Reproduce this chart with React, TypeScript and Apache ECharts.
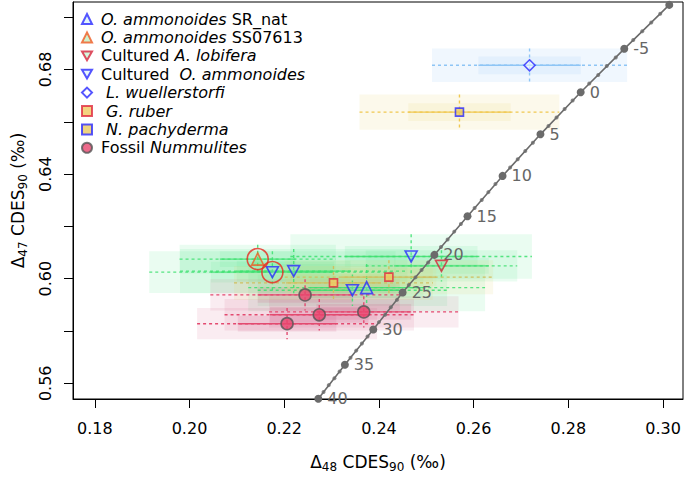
import React, { useEffect, useRef } from 'react';
import * as echarts from 'echarts';

const FONT = 'DejaVu Sans';

// axis ticks
const xTicks = [0.18, 0.2, 0.22, 0.24, 0.26, 0.28, 0.3];
const yTicks = [0.56, 0.58, 0.6, 0.62, 0.64, 0.66, 0.68, 0.7];
const yTickLabels = [0.56, 0.6, 0.64, 0.68];

// samples: [x (D48), y (D47), x 1SE, x 95%, y 1SE, y 95%]
const srNat = [[0.2374, 0.5966, 0.012, 0.025, 0.004, 0.009]];
const ss07613 = [[0.2144, 0.6075, 0.008, 0.0165, 0.003, 0.0055]];
const culturedLobifera = [[0.2532, 0.6049, 0.01, 0.016, 0.003, 0.006]];
const culturedAmmonoides = [
  [0.2175, 0.6025, 0.013, 0.026, 0.004, 0.008],
  [0.222, 0.6029, 0.012, 0.024, 0.004, 0.0085],
  [0.2344, 0.5956, 0.01, 0.02, 0.003, 0.006],
  [0.2468, 0.6085, 0.014, 0.0255, 0.004, 0.0085],
];
const wuellerstorfi = [[0.2718, 0.6816, 0.0108, 0.0206, 0.0034, 0.0064]];
const ruber = [
  [0.2304, 0.5984, 0.01, 0.021, 0.0034, 0.0065],
  [0.2421, 0.6006, 0.01, 0.022, 0.0034, 0.0065],
];
const pachyderma = [[0.257, 0.6637, 0.0108, 0.0211, 0.0034, 0.0067]];
const nummulites = [
  [0.2244, 0.5938, 0.01, 0.02, 0.003, 0.006],
  [0.2274, 0.5862, 0.0104, 0.02, 0.003, 0.006],
  [0.2206, 0.5828, 0.0104, 0.019, 0.003, 0.006],
  [0.2368, 0.5873, 0.01, 0.02, 0.003, 0.006],
];
const circled = [
  [0.2144, 0.6075],
  [0.2175, 0.6025],
];

// calibration line (every 5 °C) and 1 °C marks
const calibT = [-10, -5, 0, 5, 10, 15, 20, 25, 30, 35, 40];
const calibX = [0.3013, 0.2918, 0.2826, 0.2741, 0.2661, 0.2587, 0.2517, 0.245, 0.2388, 0.2328, 0.2272];
const calibY = [0.7047, 0.6879, 0.6713, 0.6552, 0.6393, 0.6239, 0.6091, 0.5947, 0.5806, 0.5671, 0.5541];
const minorX = [
  0.2994, 0.2975, 0.2956, 0.2937, 0.29, 0.2881, 0.2863, 0.2844, 0.2809, 0.2792, 0.2775, 0.2758,
  0.2725, 0.2709, 0.2693, 0.2677, 0.2646, 0.2631, 0.2617, 0.2602, 0.2573, 0.2559, 0.2545, 0.2531,
  0.2504, 0.249, 0.2477, 0.2463, 0.2438, 0.2425, 0.2413, 0.24, 0.2376, 0.2364, 0.2352, 0.234,
  0.2317, 0.2306, 0.2294, 0.2283,
];
const minorY = [
  0.7013, 0.698, 0.6946, 0.6913, 0.6846, 0.6813, 0.6779, 0.6746, 0.6681, 0.6649, 0.6616, 0.6584,
  0.652, 0.6488, 0.6457, 0.6425, 0.6362, 0.6331, 0.6301, 0.627, 0.6209, 0.618, 0.615, 0.6121,
  0.6062, 0.6033, 0.6005, 0.5976, 0.5919, 0.5891, 0.5862, 0.5834, 0.5779, 0.5752, 0.5725, 0.5698,
  0.5645, 0.5619, 0.5593, 0.5567,
];

const legendNames = [
  'O. ammonoides SR_nat',
  'O. ammonoides SS07613',
  'Cultured A. lobifera',
  'Cultured O. ammonoides',
  'L. wuellerstorfi',
  'G. ruber',
  'N. pachyderma',
  'Fossil Nummulites',
];
const legendRich: Record<string, string> = {
  'O. ammonoides SR_nat': '{i|O. ammonoides} SR_nat',
  'O. ammonoides SS07613': '{i|O. ammonoides} SS07613',
  'Cultured A. lobifera': 'Cultured {i|A. lobifera}',
  'Cultured O. ammonoides': 'Cultured  {i|O. ammonoides}',
  'L. wuellerstorfi': ' {i|L. wuellerstorfi}',
  'G. ruber': ' {i|G. ruber}',
  'N. pachyderma': ' {i|N. pachyderma}',
  'Fossil Nummulites': 'Fossil {i|Nummulites}',
};

const DOWN_TRI = 'path://M0,0L10,0L5,8.66Z';

type Pal = { outer: string; inner: string; line: string };

function errSeries(data: number[][], pal: Pal, part: 'rect' | 'line', z: number) {
  return {
    type: 'custom',
    z,
    clip: true,
    silent: true,
    data,
    encode: { x: 0, y: 1 },
    renderItem: (_p: any, api: any) => {
      const x = api.value(0);
      const y = api.value(1);
      const xse = api.value(2);
      const x95 = api.value(3);
      const yse = api.value(4);
      const y95 = api.value(5);
      const c = api.coord([x, y]);
      const o1 = api.coord([x - x95, y + y95]);
      const o2 = api.coord([x + x95, y - y95]);
      const i1 = api.coord([x - xse, y + yse]);
      const i2 = api.coord([x + xse, y - yse]);
      if (part === 'rect') {
        return {
          type: 'group',
          children: [
            { type: 'rect', shape: { x: o1[0], y: o1[1], width: o2[0] - o1[0], height: o2[1] - o1[1] }, style: { fill: pal.outer } },
            { type: 'rect', shape: { x: i1[0], y: i1[1], width: i2[0] - i1[0], height: i2[1] - i1[1] }, style: { fill: pal.inner } },
          ],
        };
      }
      return {
        type: 'group',
        children: [
          { type: 'line', shape: { x1: o1[0], y1: c[1], x2: o2[0], y2: c[1] }, style: { stroke: pal.line, lineWidth: 1.4, lineDash: [3, 3] } },
          { type: 'line', shape: { x1: i1[0], y1: c[1], x2: i2[0], y2: c[1] }, style: { stroke: pal.line, lineWidth: 1.4 } },
          { type: 'line', shape: { x1: c[0], y1: o1[1], x2: c[0], y2: o2[1] }, style: { stroke: pal.line, lineWidth: 1.4, lineDash: [3, 3] } },
        ],
      };
    },
  };
}

const green: Pal = { outer: 'rgba(80,230,140,0.12)', inner: 'rgba(80,230,140,0.12)', line: 'rgba(60,225,110,0.85)' };
const pink: Pal = { outer: 'rgba(210,80,130,0.11)', inner: 'rgba(210,80,130,0.15)', line: '#e34a70' };
const blueP: Pal = { outer: 'rgba(150,200,245,0.14)', inner: 'rgba(150,200,245,0.14)', line: '#8ec5f5' };
const yellow: Pal = { outer: 'rgba(235,215,120,0.15)', inner: 'rgba(235,215,120,0.15)', line: '#f0c850' };
const olive: Pal = { outer: 'rgba(225,215,120,0.14)', inner: 'rgba(225,215,120,0.14)', line: '#cfc060' };

const BLUE = '#2a2aff';

export default function App() {
  const ref = useRef<HTMLDivElement>(null);
  useEffect(() => {
    if (!ref.current) return;
    const chart = echarts.init(ref.current, undefined, { renderer: 'svg' });
    const greenData = [...srNat, ...ss07613, ...culturedLobifera, ...culturedAmmonoides];
    const xy = (a: number[][]) => a.map((d) => [d[0], d[1]]);
    const nameRich = {
      n: { fontSize: 17, fontFamily: FONT, color: '#000', lineHeight: 22, verticalAlign: 'middle' },
      s: { fontSize: 12, fontFamily: FONT, color: '#000', lineHeight: 12, verticalAlign: 'bottom' },
    };
    const sc = (name: string, data: number[][], symbol: string, size: any, itemStyle: any) => ({
      name,
      type: 'scatter',
      z: 5,
      data: xy(data),
      symbol,
      symbolSize: size,
      itemStyle,
    });
    const option: any = {
      animation: false,
      backgroundColor: '#fff',
      grid: { left: 73, right: 2, top: 2, bottom: 70, show: true, borderColor: '#000', borderWidth: 1, backgroundColor: 'transparent' },
      legend: {
        data: legendNames,
        orient: 'vertical',
        left: 81,
        top: 11,
        padding: 0,
        itemWidth: 10,
        itemHeight: 10,
        itemGap: 2.4,
        formatter: (n: string) => legendRich[n],
        textStyle: {
          fontFamily: FONT,
          fontSize: 16,
          lineHeight: 16,
          color: '#000',
          padding: [0, 0, 0, 4],
          rich: { i: { fontFamily: FONT, fontSize: 16, fontStyle: 'italic', color: '#000' } },
        },
        selectedMode: false,
      },
      xAxis: {
        type: 'value',
        min: 0.1754,
        max: 0.3042,
        axisLine: { show: true, onZero: false, lineStyle: { color: '#000', width: 1 } },
        axisTick: { show: true, customValues: xTicks, length: 9, lineStyle: { color: '#000' } },
        axisLabel: { customValues: xTicks, formatter: (v: number) => v.toFixed(2), fontSize: 16, fontFamily: FONT, color: '#000', margin: 21 },
        splitLine: { show: false },
        name: '{n|Δ}{s|48}{n| CDES}{s|90}{n| (‰)}',
        nameLocation: 'middle',
        nameGap: 52,
        nameTextStyle: { rich: nameRich },
      },
      yAxis: {
        type: 'value',
        min: 0.554,
        max: 0.7058,
        axisLine: { show: true, onZero: false, lineStyle: { color: '#000', width: 1 } },
        axisTick: { show: true, customValues: yTicks, length: 9, lineStyle: { color: '#000' } },
        axisLabel: { customValues: yTickLabels, formatter: (v: number) => v.toFixed(2), fontSize: 16, fontFamily: FONT, color: '#000', margin: 20, rotate: 90 },
        splitLine: { show: false },
        name: '{n|Δ}{s|47}{n| CDES}{s|90}{n| (‰)}',
        nameLocation: 'middle',
        nameGap: 44,
        nameTextStyle: { rich: nameRich },
      },
      graphic: [
        { type: 'rect', z: 100, shape: { x: 324, y: 408.6, width: 30, height: 12 }, style: { fill: '#fff' } },
      ],
      series: [
        errSeries(greenData, green, 'rect', 1),
        errSeries(nummulites, pink, 'rect', 1),
        errSeries(ruber, olive, 'rect', 1),
        errSeries(wuellerstorfi, blueP, 'rect', 1),
        errSeries(pachyderma, yellow, 'rect', 1),
        errSeries(greenData, green, 'line', 2),
        errSeries(nummulites, pink, 'line', 2),
        errSeries(ruber, olive, 'line', 2),
        errSeries(wuellerstorfi, blueP, 'line', 2),
        errSeries(pachyderma, yellow, 'line', 2),
        {
          type: 'line',
          z: 3,
          clip: true,
          silent: true,
          data: calibX.map((x, i) => [x, calibY[i], calibT[i]]),
          symbol: 'circle',
          symbolSize: 8,
          itemStyle: { color: '#6b6b6b' },
          lineStyle: { color: '#6b6b6b', width: 1.6 },
          label: {
            show: true,
            position: 'right',
            distance: 5,
            color: '#666',
            fontSize: 16,
            fontFamily: FONT,
            formatter: (p: any) => (p.value[2] === -10 ? '' : String(p.value[2])),
          },
        },
        {
          type: 'scatter',
          z: 3,
          silent: true,
          data: minorX.map((x, i) => [x, minorY[i]]),
          symbol: 'circle',
          symbolSize: 4,
          itemStyle: { color: '#6b6b6b' },
        },
        sc('O. ammonoides SR_nat', srNat, 'triangle', 12, { color: 'rgba(150,220,240,0.35)', borderColor: BLUE, borderWidth: 1.6 }),
        sc('O. ammonoides SS07613', ss07613, 'triangle', 12, { color: 'rgba(120,220,120,0.45)', borderColor: '#f05a22', borderWidth: 1.6 }),
        sc('Cultured A. lobifera', culturedLobifera, DOWN_TRI, [12, 11], { color: 'rgba(120,230,150,0.4)', borderColor: '#d8243c', borderWidth: 1.6 }),
        sc('Cultured O. ammonoides', culturedAmmonoides, DOWN_TRI, [12, 11], { color: 'rgba(150,220,240,0.3)', borderColor: BLUE, borderWidth: 1.6 }),
        sc('L. wuellerstorfi', wuellerstorfi, 'diamond', 11, { color: 'rgba(255,255,255,0.6)', borderColor: BLUE, borderWidth: 1.6 }),
        sc('G. ruber', ruber, 'rect', 8, { color: '#f0c860', borderColor: '#e02a40', borderWidth: 1.6 }),
        sc('N. pachyderma', pachyderma, 'rect', 8, { color: '#e8c860', borderColor: BLUE, borderWidth: 1.6 }),
        sc('Fossil Nummulites', nummulites, 'circle', 12, { color: '#e8456e', borderColor: '#555', borderWidth: 1.6 }),
        {
          name: 'circled', type: 'scatter', z: 6, silent: true, data: circled, symbol: 'circle', symbolSize: 21,
          itemStyle: { color: 'rgba(0,0,0,0)', borderColor: '#e8281e', borderWidth: 1.6 },
        },
      ],
    };
    chart.setOption(option);
    return () => chart.dispose();
  }, []);
  return <div ref={ref} style={{ width: 685, height: 478, position: 'absolute', left: 0, top: 0 }} />;
}
